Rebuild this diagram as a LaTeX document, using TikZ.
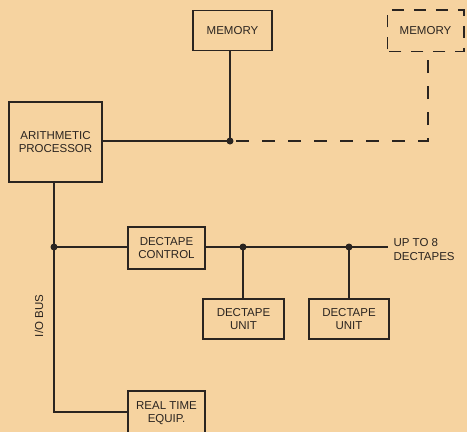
\documentclass[tikz,border=0pt]{standalone}
\usepackage{fontspec}
\setmainfont{Liberation Sans}
\definecolor{paper}{HTML}{F6D3A0}
\definecolor{ink}{HTML}{2A2420}
\begin{document}
\begin{tikzpicture}[x=1pt,y=-1pt,
  box/.style={draw=ink,line width=1.5pt,inner sep=0pt,font=\fontsize{11.5}{13}\selectfont,text=ink,align=center},
  wire/.style={draw=ink,line width=1.3pt},
  dwire/.style={draw=ink,line width=1.3pt,dash pattern=on 13pt off 13pt},
  dot/.style={circle,fill=ink,inner sep=0pt,minimum size=7pt},
  lbl/.style={font=\fontsize{11.5}{14}\selectfont,text=ink,align=left}]
\fill[paper] (0,0) rectangle (467,432);
\useasboundingbox (0,0) rectangle (467,432);
% boxes
\node[box,minimum width=79pt,minimum height=40pt] (mem) at (232.5,30.5) {MEMORY};
\node[box,draw=none,minimum width=75pt,minimum height=40pt] (mem2) at (425.5,30.5) {MEMORY};
\draw[dwire,line width=1.5pt,dash pattern=on 12pt off 10pt,dash phase=-2pt] (mem2.south west) -- (mem2.north west) -- (mem2.north east) -- (mem2.south east) -- (mem2.south west);
\node[box,minimum width=93pt,minimum height=80pt] (ap) at (55.5,142) {ARITHMETIC\\PROCESSOR};
\node[box,minimum width=77pt,minimum height=42pt] (dc) at (166.5,248) {DECTAPE\\CONTROL};
\node[box,minimum width=81pt,minimum height=40pt] (du1) at (243.5,319) {DECTAPE\\UNIT};
\node[box,minimum width=80pt,minimum height=40pt] (du2) at (349,319) {DECTAPE\\UNIT};
\node[box,minimum width=77pt,minimum height=44pt] (rt) at (166.5,413) {REAL TIME\\EQUIP.};
% junctions
\node[dot] (j1) at (230,141) {};
\node[dot] (j2) at (54,247) {};
\node[dot] (j3) at (243,247) {};
\node[dot] (j4) at (349,247) {};
\coordinate (c1) at (428,141);
\coordinate (c2) at (428,50.5);
\coordinate (c3) at (388,247);
\coordinate (c4) at (54,412);
% connectors
\draw[wire] (ap.east |- j1) -- (j1.center);
\draw[wire] (j1.center |- mem.south) -- (j1.center);
\draw[dwire,dash phase=-6pt] (j1.center) -- (c1) -- (c2);
\draw[wire] (ap.south -| j2) -- (j2.center) -- (c4) -- (rt.west |- c4);
\draw[wire] (j2.center) -- (dc.west |- j2);
\draw[wire] (dc.east |- j3) -- (j3.center) -- (j4.center) -- (c3);
\draw[wire] (j3.center) -- (j3.center |- du1.north);
\draw[wire] (j4.center) -- (j4.center |- du2.north);
% labels
\node[lbl,anchor=west] (up) at (390,250) {UP TO 8\\DECTAPES};
\node[lbl,rotate=90] (io) at (39,316) {I/O BUS};
\end{tikzpicture}
\end{document}
